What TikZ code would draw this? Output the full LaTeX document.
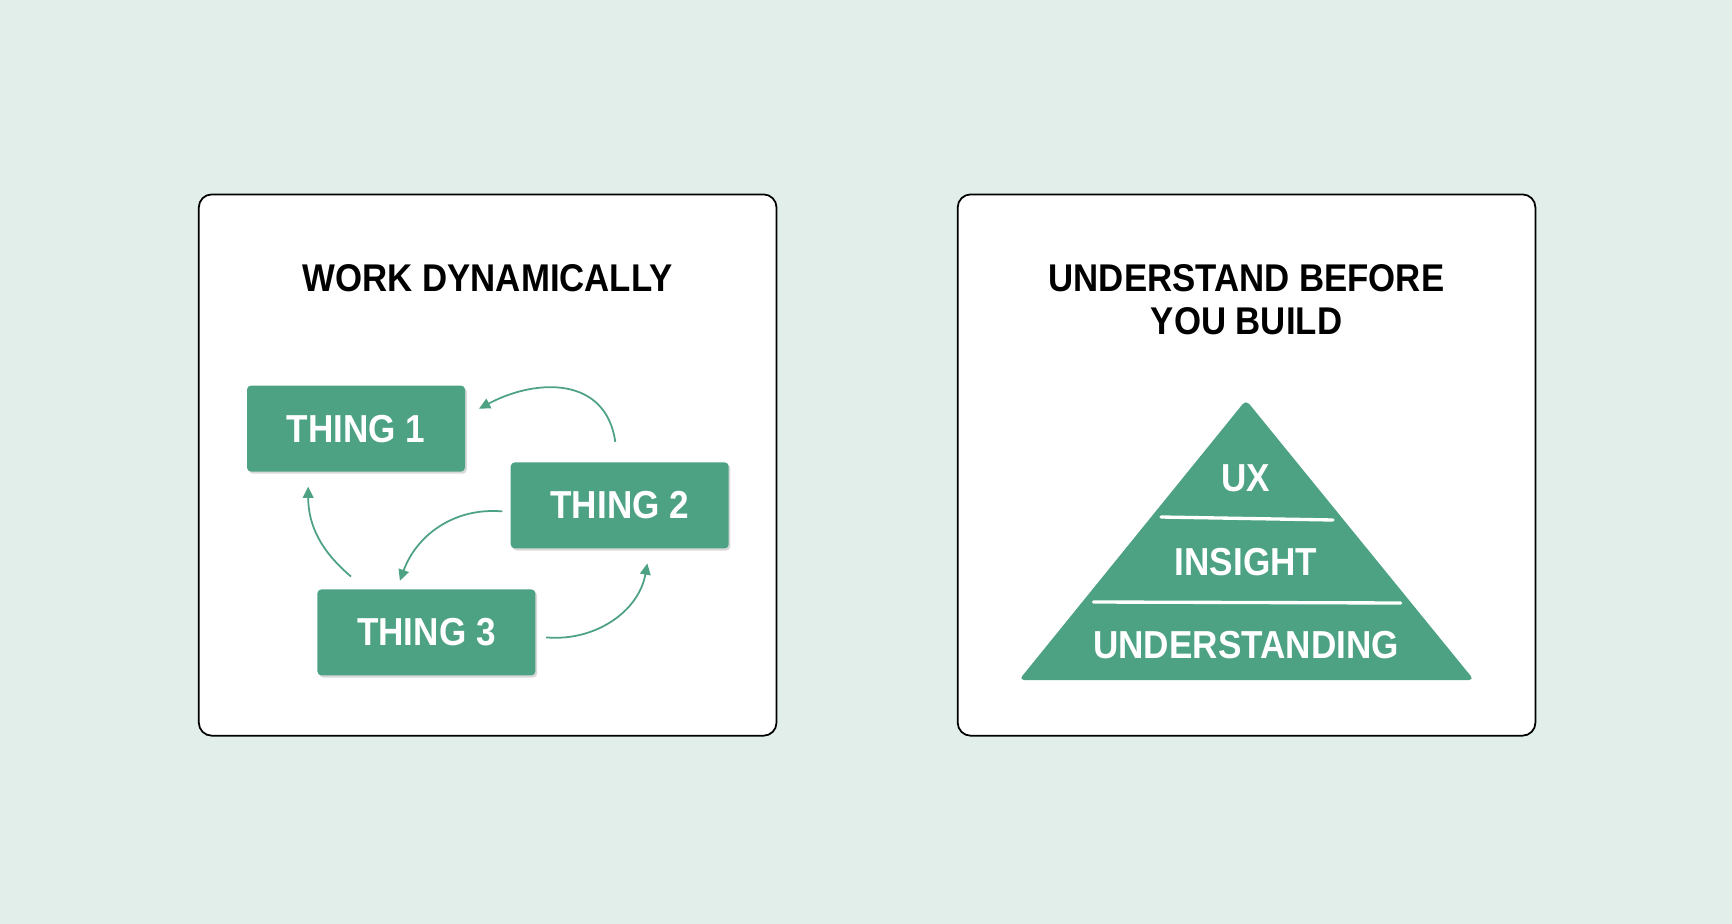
\documentclass[tikz,border=0pt]{standalone}
\usepackage{fontspec}
\setmainfont{Liberation Sans}[FakeStretch=0.9]
\usepackage{tkz-euclide}
\usetikzlibrary{arrows.meta,shadows}
\definecolor{mint}{HTML}{E2EEE9}
\definecolor{thinggreen}{HTML}{4DA284}

\begin{document}
\begin{tikzpicture}[
    panel/.style={fill=white,draw=black,line width=0.5pt,rounded corners=0.13cm},
    heading/.style={text=black,align=center,font=\bfseries\fontsize{11}{12.2}\selectfont},
    thing/.style={fill=thinggreen,text=white,rounded corners=0.04cm,minimum width=2.18cm,minimum height=0.86cm,
        font=\bfseries\fontsize{11.1}{12.2}\selectfont,
        drop shadow={shadow xshift=0.5pt,shadow yshift=-0.6pt,fill=black,opacity=0.15}},
    flow/.style={draw=thinggreen,line width=0.5pt,-{Triangle[length=3.2pt,width=3pt]}},
    layer/.style={text=white,font=\bfseries\fontsize{11.1}{12.2}\selectfont},
    layerline/.style={draw=white,line width=0.95pt,line cap=round}]
    \fill[mint] (0,0) rectangle (17.32,-9.24);
    \useasboundingbox (0,0) rectangle (17.32,-9.24);
    \draw[panel] (1.988,-1.944) rectangle (7.765,-7.357);
    \draw[panel] (9.577,-1.944) rectangle (15.354,-7.357);
    \node[heading] (dyn) at (4.876,-2.78) {WORK DYNAMICALLY};
    \node[thing] (t1) at (3.56,-4.286) {THING 1};
    \node[thing] (t2) at (6.197,-5.054) {THING 2};
    \node[thing] (t3) at (4.264,-6.324) {THING 3};
    \draw[flow] ([shift={(-0.044,0.198)}]t2.north) to[out=98,in=28,looseness=1.2] ([shift={(0.133,0.199)}]t1.east);
    \draw[flow] ([shift={(-0.077,-0.06)}]t2.west) to[out=175,in=70] ([shift={(-0.265,0.079)}]t3.north);
    \draw[flow] ([shift={(0.343,0.122)}]t3.north west) to[out=140,in=-90] ([shift={(-0.478,-0.143)}]t1.south);
    \draw[flow] ([shift={(0.1,-0.05)}]t3.east) to[out=-5,in=-100] ([shift={(0.276,-0.143)}]t2.south);
    \node[heading] (ubyb) at (12.465,-2.998) {UNDERSTAND BEFORE\\YOU BUILD};
    \tkzDefPoint(12.46,-4.0){A}
    \tkzDefPoint(10.19,-6.80){B}
    \tkzDefPoint(14.74,-6.80){C}
    \fill[thinggreen,rounded corners=0.05cm] (A) -- (B) -- (C) -- cycle;
    \draw[layerline] (11.61,-5.17) -- (13.33,-5.20);
    \draw[layerline] (10.936,-6.02) -- (14.006,-6.03);
    \node[layer] (ux) at (12.46,-4.78) {UX};
    \node[layer] (insight) at (12.46,-5.62) {INSIGHT};
    \node[layer] (underst) at (12.46,-6.45) {UNDERSTANDING};
\end{tikzpicture}
\end{document}
